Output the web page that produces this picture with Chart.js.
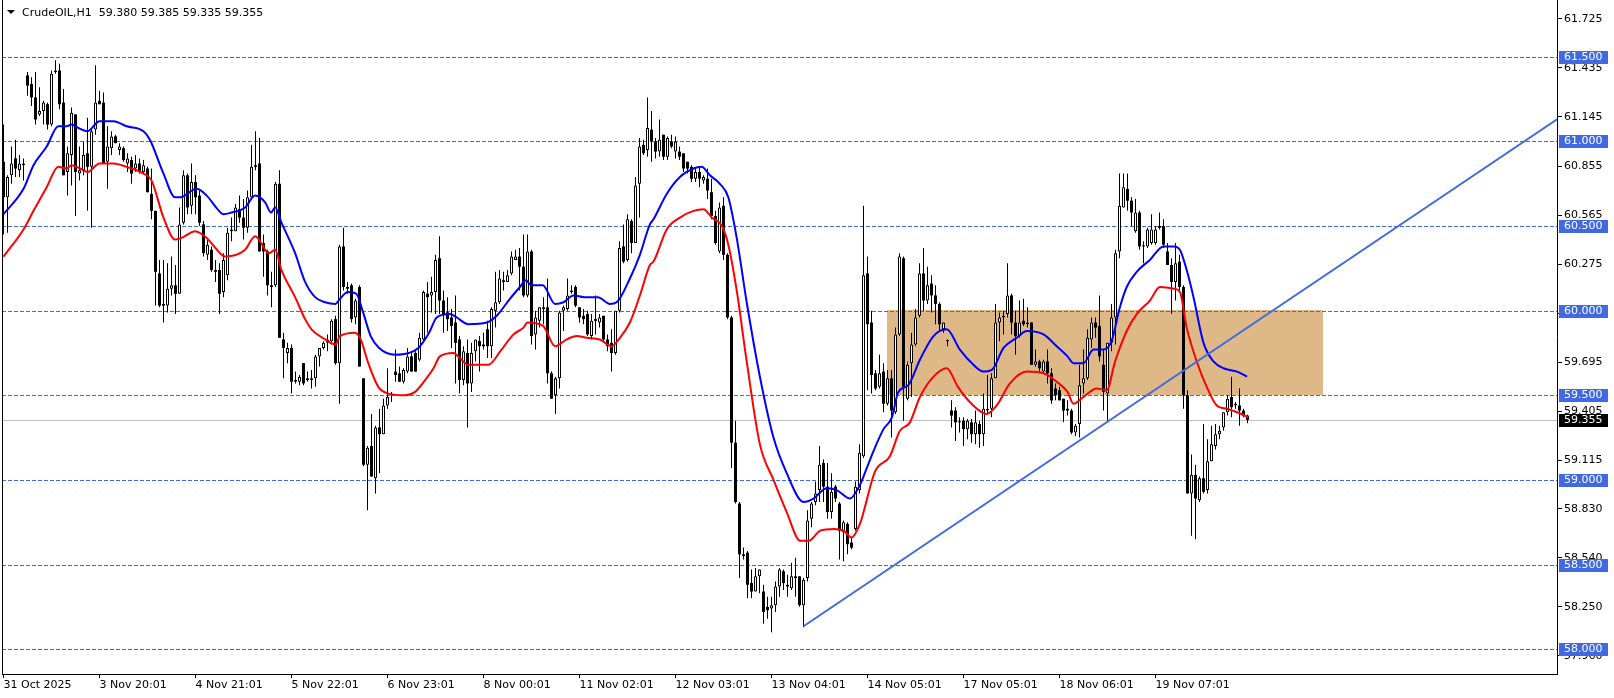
<!DOCTYPE html>
<html>
<head>
<meta charset="utf-8">
<script src="https://cdn.jsdelivr.net/npm/chart.js@4.4.1/dist/chart.umd.min.js"></script>
<style>
  html, body { margin: 0; padding: 0; background: #fff; overflow: hidden; }
  canvas { display: block; }
</style>
</head>
<body>
<canvas id="chart" width="1614" height="698"></canvas>
<script>
// CrudeOIL H1 candles, one entry per bar (bar 0 = 31 Oct 2025)
var opens = [60.88,60.67,60.80,60.90,60.83,60.86,61.39,61.34,61.26,61.16,61.18,61.22,61.10,61.41,61.42,61.23,60.82,60.92,61.16,60.81,
60.83,60.93,60.85,61.07,61.24,61.23,60.88,60.96,61.03,60.95,60.96,60.87,60.89,60.84,60.87,60.82,60.84,60.69,60.59,60.22,
60.04,60.03,60.13,60.15,60.10,60.52,60.80,60.62,60.76,60.68,60.51,60.33,60.36,60.24,60.24,60.11,60.21,60.47,60.47,60.60,
60.55,60.49,60.67,60.86,60.87,60.40,60.35,60.15,60.15,60.75,59.83,59.75,59.78,59.58,59.58,59.69,59.60,59.59,59.60,59.73,
59.78,59.81,59.82,59.95,59.69,60.38,60.14,60.15,59.96,60.14,59.60,59.09,59.20,59.01,59.31,59.27,59.44,59.50,59.64,59.63,
59.58,59.64,59.73,59.75,59.71,59.83,60.10,60.09,60.11,60.31,60.06,59.99,59.96,59.93,59.83,59.59,59.75,59.57,59.76,59.82,
59.80,59.89,59.79,60.00,60.05,60.18,60.17,60.22,60.30,60.32,60.26,60.09,60.35,59.86,59.94,60.02,60.02,59.63,59.50,59.60,
60.00,60.01,60.11,60.14,60.02,59.97,59.98,59.85,59.95,59.93,59.97,59.83,59.81,59.75,60.00,60.38,60.30,60.53,60.40,60.75,
60.98,60.95,61.07,61.00,60.94,61.04,60.91,61.00,60.94,60.94,60.93,60.88,60.85,60.78,60.82,60.77,60.78,60.70,60.56,60.35,
60.62,60.33,59.96,59.22,58.86,58.56,58.57,58.39,58.34,58.43,58.34,58.25,58.24,58.26,58.37,58.46,58.38,58.36,58.43,58.43,
58.26,58.42,58.77,58.87,58.94,59.10,58.96,58.81,58.96,58.86,58.69,58.74,58.63,58.71,58.94,59.14,60.22,59.93,59.63,59.55,
59.64,59.45,59.60,59.40,59.86,60.31,59.48,59.69,59.80,59.97,60.22,60.06,60.16,60.09,60.04,59.89,59.82,59.41,59.41,59.34,
59.35,59.30,59.34,59.27,59.33,59.27,59.41,59.42,59.60,59.93,59.96,59.98,60.09,59.93,59.85,59.94,59.92,59.93,59.68,59.70,
59.64,59.70,59.63,59.54,59.53,59.48,59.42,59.41,59.28,59.33,59.57,59.60,59.83,59.93,59.91,59.68,59.51,59.81,59.96,60.35,
60.61,60.72,60.65,60.47,60.58,60.38,60.38,60.40,60.40,60.50,60.50,60.35,60.27,60.17,60.29,60.14,59.50,58.92,59.03,58.88,
59.01,58.94,59.11,59.20,59.27,59.31,59.40,59.49,59.44,59.44,59.41,59.38];
var highs = [61.10,60.80,60.97,61.01,60.92,60.90,61.41,61.38,61.41,61.32,61.24,61.23,61.42,61.48,61.46,61.31,60.97,61.20,61.16,60.97,
61.00,61.14,61.08,61.45,61.30,61.29,61.09,61.06,61.04,60.99,60.97,60.93,60.91,60.92,60.90,60.89,60.85,60.84,60.59,60.30,
60.30,60.28,60.32,60.27,60.61,60.83,60.81,60.87,60.80,60.72,60.53,60.42,60.38,60.30,60.28,60.34,60.49,60.55,60.63,60.68,
60.66,60.71,60.98,61.06,61.02,60.45,60.36,60.23,60.76,60.83,59.87,59.81,59.80,59.64,59.62,59.69,59.64,59.65,59.74,59.78,
59.82,59.86,59.95,59.97,60.39,60.49,60.17,60.16,60.07,60.15,59.60,59.20,59.39,59.32,59.42,59.48,59.66,59.52,59.77,59.67,
59.66,59.78,59.76,59.76,59.87,60.12,60.17,60.20,60.33,60.44,60.12,60.08,60.01,60.09,59.85,59.79,59.83,59.81,59.83,59.85,
59.87,59.94,60.02,60.23,60.24,60.23,60.24,60.35,60.36,60.37,60.45,60.45,60.36,60.00,60.02,60.08,60.19,59.64,59.61,60.00,
60.03,60.19,60.15,60.15,60.02,60.01,60.00,59.98,60.09,59.98,59.97,59.86,59.89,60.00,60.41,60.51,60.57,60.54,60.79,61.02,
61.01,61.26,61.18,61.02,61.13,61.04,61.03,61.04,61.03,60.97,60.93,60.88,60.86,60.84,60.85,60.80,60.84,60.78,60.59,60.64,
60.67,60.34,59.97,59.35,58.87,58.60,58.58,58.47,58.48,58.47,58.38,58.31,58.31,58.40,58.48,58.47,58.44,58.51,58.54,58.43,
58.42,58.82,58.87,58.99,59.20,59.12,59.10,59.04,58.97,58.87,58.76,58.75,58.66,58.99,59.21,60.62,60.32,60.00,59.65,59.74,
59.69,59.65,59.65,59.90,60.34,60.32,59.70,59.87,60.01,60.28,60.37,60.26,60.21,60.15,60.05,59.93,59.83,59.47,59.43,59.37,
59.37,59.36,59.36,59.41,59.35,59.51,59.62,59.63,60.04,59.99,60.00,60.28,60.10,60.00,60.06,60.07,60.02,59.93,59.77,59.71,
59.71,59.77,59.66,59.57,59.55,59.48,59.47,59.42,59.33,59.68,59.77,59.89,59.96,59.96,60.09,59.77,59.81,60.04,60.36,60.81,
60.81,60.81,60.67,60.66,60.59,60.41,60.49,60.57,60.50,60.58,60.54,60.40,60.31,60.40,60.33,60.15,59.53,59.15,59.09,59.02,
59.33,59.24,59.32,59.33,59.32,59.40,59.50,59.61,59.46,59.54,59.42,59.385];
var lows = [60.45,60.46,60.75,60.79,60.79,60.77,61.27,61.21,61.10,61.15,61.10,61.07,61.09,61.40,61.19,60.80,60.68,60.74,60.56,60.77,
60.80,60.59,60.49,61.04,61.22,60.87,60.72,60.92,60.99,60.92,60.88,60.82,60.75,60.82,60.81,60.81,60.70,60.54,60.03,60.02,
59.93,59.99,60.09,59.98,60.10,60.51,60.57,60.57,60.57,60.50,60.32,60.30,60.23,60.17,59.98,60.08,60.18,60.41,60.47,60.52,
60.42,60.46,60.66,60.83,60.35,60.20,60.09,60.02,60.14,59.84,59.60,59.69,59.51,59.57,59.56,59.56,59.58,59.54,59.55,59.67,
59.77,59.76,59.80,59.68,59.45,60.12,60.10,59.93,59.92,59.67,59.08,58.82,59.02,58.92,59.04,59.27,59.42,59.46,59.58,59.58,
59.57,59.63,59.64,59.64,59.70,59.82,59.87,59.99,59.98,59.98,59.87,59.88,59.78,59.57,59.51,59.56,59.31,59.52,59.70,59.64,
59.77,59.72,59.72,59.90,60.04,60.12,60.17,60.21,60.30,60.12,60.08,60.08,59.80,59.77,59.90,59.92,59.57,59.48,59.39,59.54,
59.88,60.00,60.10,60.02,59.93,59.92,59.85,59.83,59.86,59.90,59.82,59.76,59.64,59.74,59.99,60.28,60.29,60.34,60.40,60.55,
60.92,60.91,60.88,60.90,60.91,60.89,60.89,60.96,60.90,60.89,60.82,60.81,60.76,60.76,60.73,60.75,60.66,60.54,60.39,60.34,
60.30,59.95,59.07,58.86,58.42,58.53,58.30,58.30,58.34,58.33,58.15,58.18,58.10,58.22,58.31,58.35,58.31,58.35,58.31,58.25,
58.13,58.40,58.72,58.85,58.87,58.87,58.77,58.77,58.87,58.53,58.52,58.56,58.59,58.70,58.92,59.13,59.53,59.51,59.53,59.54,
59.40,59.44,59.25,59.39,59.85,59.35,59.47,59.49,59.79,59.96,60.00,60.04,59.99,59.92,59.88,59.87,59.79,59.31,59.23,59.28,
59.20,59.24,59.22,59.21,59.19,59.20,59.39,59.37,59.60,59.82,59.86,59.96,59.86,59.74,59.84,59.91,59.90,59.68,59.67,59.64,
59.63,59.57,59.45,59.47,59.47,59.34,59.38,59.27,59.26,59.25,59.51,59.59,59.78,59.84,59.70,59.41,59.35,59.76,59.80,60.31,
60.61,60.59,60.50,60.46,60.36,60.28,60.37,60.39,60.39,60.48,60.37,60.27,59.98,60.06,60.12,59.42,58.92,58.67,58.65,58.87,
58.92,58.92,59.11,59.18,59.24,59.29,59.38,59.37,59.42,59.32,59.37,59.335];
var closes = [60.67,60.79,60.87,60.84,60.87,60.87,61.33,61.26,61.13,61.18,61.23,61.10,61.40,61.42,61.22,60.80,60.93,61.17,60.82,60.83,
60.92,60.85,61.06,61.23,61.22,60.87,60.97,61.03,60.99,60.97,60.89,60.90,60.81,60.87,60.82,60.86,60.70,60.59,60.23,60.03,
60.03,60.13,60.15,60.10,60.51,60.80,60.61,60.76,60.67,60.52,60.34,60.39,60.24,60.23,60.10,60.30,60.46,60.48,60.61,60.55,
60.49,60.67,60.85,60.85,60.35,60.35,60.15,60.14,60.75,59.84,59.78,59.78,59.58,59.59,59.61,59.57,59.59,59.60,59.73,59.78,
59.81,59.83,59.94,59.69,60.38,60.14,60.13,59.95,60.06,59.67,59.09,59.19,59.02,59.31,59.27,59.44,59.49,59.51,59.62,59.58,
59.65,59.73,59.64,59.64,59.84,60.11,60.08,60.11,60.30,60.06,59.98,59.95,59.91,59.81,59.59,59.76,59.57,59.75,59.83,59.79,
59.79,59.79,60.01,60.05,60.19,60.17,60.21,60.32,60.32,60.26,60.09,60.35,59.85,59.96,60.02,60.01,59.63,59.48,59.60,59.99,
60.02,60.09,60.12,60.03,59.96,59.95,59.86,59.94,59.94,59.96,59.83,59.79,59.75,60.00,60.37,60.29,60.54,60.40,60.74,60.97,
60.93,61.08,61.00,60.94,61.01,60.91,61.02,60.97,61.00,60.91,60.84,60.84,60.78,60.82,60.78,60.79,60.71,60.56,60.40,60.61,
60.33,59.96,59.22,58.87,58.56,58.55,58.38,58.34,58.43,58.47,58.22,58.23,58.26,58.37,58.47,58.39,58.37,58.43,58.42,58.26,
58.41,58.76,58.86,58.92,59.09,58.96,58.81,58.93,58.89,58.70,58.75,58.62,58.60,58.96,59.16,60.21,59.92,59.62,59.54,59.63,
59.45,59.60,59.41,59.86,60.32,59.55,59.68,59.80,59.96,60.22,60.06,60.15,60.09,60.04,59.92,59.93,59.82,59.38,59.34,59.34,
59.30,59.35,59.27,59.34,59.27,59.42,59.42,59.60,59.93,59.96,59.97,60.09,59.93,59.85,59.93,59.92,59.93,59.68,59.70,59.66,
59.70,59.63,59.47,59.50,59.47,59.41,59.41,59.28,59.32,59.56,59.60,59.84,59.93,59.90,59.73,59.52,59.81,59.96,60.34,60.62,
60.73,60.65,60.58,60.58,60.38,60.38,60.48,60.48,60.48,60.49,60.39,60.27,60.17,60.28,60.14,59.50,58.92,59.03,58.89,59.01,
58.93,59.11,59.21,59.27,59.29,59.40,59.48,59.43,59.45,59.41,59.38,59.355];

// moving averages (bar position, price)
var blueBars = [0,5,7.5,10.8,13.7,15.8,17,18.7,21,24,27.5,30.8,35,36.6,40,42.9,44.1,48.3,50.8,53.5,55,57,60.4,62.9,65.4,66.9,67.9,69.5,72.9,75.4,
77.9,80.4,83,84.1,86.1,88.2,89.9,91.8,93.9,97.9,101.3,103.7,106.4,108.3,111.6,113.3,116.2,120.8,123.3,126.6,129.1,130.6,131.9,134.8,137.9,140,142.5,145.2,148.6,151.6,
153.3,156.6,159.1,161.6,162.5,165.8,169.1,172.5,174.5,176.6,179.1,181.2,183.3,185.8,189.1,192.5,195.8,200,202.5,205.8,208.3,211.6,214.1,215,217.5,220,222.1,223.7,226.2,229.1,
232.5,235.8,239.1,242.5,245,247.1,250,253.3,255.8,260,263.3,266,267.5,270,272.5,275,277,279.1,280.8,283.3,286.6,290,292.6,294.1,295.8,297.5,300,302.5,305,308.4,310.9];
var blueVals = [60.57,60.72,60.86,60.97,61.09,61.09,61.10,61.08,61.06,61.12,61.12,61.09,61.06,61.01,60.81,60.67,60.67,60.72,60.68,60.60,60.57,60.58,60.61,60.68,60.64,60.58,60.61,60.52,60.34,60.17,
60.08,60.05,60.04,60.07,60.11,60.10,59.99,59.85,59.78,59.74,59.75,59.78,59.87,59.96,59.98,59.96,59.92,59.93,59.97,60.07,60.14,60.18,60.15,60.15,60.04,60.05,60.09,60.08,60.08,60.04,
60.05,60.19,60.33,60.51,60.54,60.69,60.79,60.84,60.85,60.80,60.75,60.67,60.43,60.05,59.61,59.25,59.04,58.87,58.89,58.95,58.94,58.89,58.97,59.02,59.17,59.30,59.37,59.52,59.56,59.71,
59.85,59.89,59.77,59.68,59.64,59.65,59.78,59.84,59.88,59.86,59.79,59.73,59.69,59.69,59.77,59.77,59.82,60.02,60.14,60.23,60.30,60.38,60.38,60.36,60.24,60.08,59.81,59.70,59.66,59.64,59.61];
var redBars = [0,5,7.5,10.8,13.7,15.8,17,19.1,21,24,27.5,30.8,35,37,40,42.9,44.5,47.9,50.8,53,55.4,60.4,62.9,66.4,67.9,69.5,72.9,75.4,77,80.4,
83,84.1,87.9,89.3,91.2,93.7,96.2,100.4,102.9,105.4,107.5,109.1,112.5,114.1,116.2,121.2,124.5,127.5,130,131,134.9,137.9,140.8,143.3,145.8,149.1,152,154.1,156.6,159.1,
161.6,162.5,165.8,169.1,172.5,175,177.1,179.6,181.2,183.3,185.8,189.1,192.5,195.8,199.2,201.3,204.2,207.6,210,212,214.1,217.9,221.6,224.1,226.6,229.1,232.5,235.8,238.6,242,
245.8,248.3,251.6,255.8,260,263.3,266,267.5,270,273.3,275.8,277.9,280.8,283.3,286.6,289.1,292.6,294.1,295.8,298.3,300.8,303.3,305.8,308.4,311.2];
var redVals = [60.32,60.48,60.59,60.73,60.85,60.84,60.86,60.84,60.82,60.87,60.87,60.85,60.81,60.77,60.55,60.42,60.43,60.47,60.43,60.37,60.32,60.36,60.44,60.34,60.36,60.24,60.08,59.95,59.89,59.83,
59.80,59.85,59.87,59.83,59.69,59.55,59.51,59.50,59.52,59.59,59.66,59.73,59.75,59.72,59.68,59.68,59.77,59.86,59.90,59.93,59.91,59.79,59.83,59.85,59.84,59.83,59.79,59.84,59.93,60.09,
60.27,60.29,60.48,60.55,60.59,60.60,60.55,60.50,60.39,60.12,59.70,59.21,59.00,58.81,58.64,58.64,58.70,58.71,58.70,58.66,58.74,59.05,59.14,59.29,59.34,59.49,59.61,59.66,59.55,59.45,
59.39,59.44,59.57,59.64,59.63,59.58,59.52,59.45,59.49,59.54,59.53,59.70,59.88,59.98,60.06,60.14,60.13,60.11,59.90,59.70,59.55,59.44,59.42,59.40,59.37];

// time axis
var tickBars = [0,24,48,72,96,120,144,168,192,216,240,264,288];
var timeLabels = ['31 Oct 2025','3 Nov 20:01','4 Nov 21:01','5 Nov 22:01','6 Nov 23:01','8 Nov 00:01','11 Nov 02:01',
  '12 Nov 03:01','13 Nov 04:01','14 Nov 05:01','17 Nov 05:01','18 Nov 06:01','19 Nov 07:01'];
// price axis
var priceTicks = ['61.725','61.435','61.145','60.855','60.565','60.275','59.985','59.695','59.405','59.115','58.830','58.540','58.250','57.960'];
var levels = [61.5, 61.0, 60.5, 60.0, 59.5, 59.0, 58.5, 58.0];
var lastPrice = 59.355;
var titleText = 'CrudeOIL,H1  59.380 59.385 59.335 59.355';
// drawn objects
var zoneBars = [220.9, 329.8];
var zonePrices = [59.5, 60.005];
var trendBars = [200, 388.4];
var trendPrices = [58.135, 61.131];

var viewBars = [-0.375, 388.375];
var viewPrices = [57.853, 61.836];

var FONT = 'DejaVu Sans';
Chart.defaults.font.family = FONT;
Chart.defaults.font.size = 11;
Chart.defaults.color = '#000';

var idx = closes.map(function (c, i) { return i; });

var overlay = {
    id: 'overlay',
    beforeDatasetsDraw: function (chart) {
        var ctx = chart.ctx, a = chart.chartArea, x = chart.scales.x, y = chart.scales.y;
        ctx.save();
        ctx.beginPath();
        ctx.rect(a.left, a.top, a.right - a.left, a.bottom - a.top);
        ctx.clip();
        // support/resistance box
        var x0 = Math.round(x.getPixelForValue(zoneBars[0]));
        var x1 = Math.round(x.getPixelForValue(zoneBars[1]));
        var y0 = Math.round(y.getPixelForValue(zonePrices[1]));
        var y1 = Math.round(y.getPixelForValue(zonePrices[0]));
        ctx.fillStyle = '#DEB887';
        ctx.fillRect(x0, y0, x1 - x0, y1 - y0);
        // bid line
        var py = Math.round(y.getPixelForValue(lastPrice)) + 0.5;
        ctx.strokeStyle = '#C0C0C0';
        ctx.lineWidth = 1;
        ctx.beginPath();
        ctx.moveTo(a.left, py);
        ctx.lineTo(a.right, py);
        ctx.stroke();
        // dashed levels
        ctx.strokeStyle = '#4169E1';
        ctx.setLineDash([4, 2]);
        levels.forEach(function (v) {
            var ly = Math.round(y.getPixelForValue(v)) + 0.5;
            ctx.beginPath();
            ctx.moveTo(a.left, ly);
            ctx.lineTo(a.right, ly);
            ctx.stroke();
        });
        ctx.restore();
    },
    afterDatasetsDraw: function (chart) {
        var ctx = chart.ctx, a = chart.chartArea, x = chart.scales.x, y = chart.scales.y;
        ctx.save();
        ctx.beginPath();
        ctx.rect(a.left, a.top, a.right - a.left, a.bottom - a.top);
        ctx.clip();
        ctx.strokeStyle = '#4169E1';
        ctx.lineWidth = 2;
        ctx.beginPath();
        ctx.moveTo(x.getPixelForValue(trendBars[0]), y.getPixelForValue(trendPrices[0]));
        ctx.lineTo(x.getPixelForValue(trendBars[1]), y.getPixelForValue(trendPrices[1]));
        ctx.stroke();
        ctx.restore();
    },
    afterDraw: function (chart) {
        var ctx = chart.ctx, a = chart.chartArea, y = chart.scales.y;
        ctx.save();
        // left border
        ctx.strokeStyle = '#000';
        ctx.lineWidth = 1;
        ctx.beginPath();
        ctx.moveTo(a.left + 0.5, a.top);
        ctx.lineTo(a.left + 0.5, a.bottom);
        ctx.stroke();
        // price tags on the axis
        ctx.font = '11px "' + FONT + '"';
        ctx.textBaseline = 'middle';
        ctx.textAlign = 'left';
        function tag(v, bg) {
            var ty = Math.round(y.getPixelForValue(v));
            ctx.fillStyle = bg;
            ctx.fillRect(a.right + 2, ty - 6, 49, 13);
            ctx.fillStyle = '#fff';
            ctx.fillText(v.toFixed(3), a.right + 7, ty + 0.5);
        }
        levels.forEach(function (v) { tag(v, '#4169E1'); });
        tag(lastPrice, '#000');
        // title
        ctx.fillStyle = '#000';
        ctx.beginPath();
        ctx.moveTo(7, 10);
        ctx.lineTo(15, 10);
        ctx.lineTo(11, 14);
        ctx.closePath();
        ctx.fill();
        ctx.fillText(titleText, 22, 13);
        ctx.restore();
    }
};

new Chart(document.getElementById('chart'), {
    type: 'bar',
    data: {
        datasets: [
            {
                type: 'line',
                label: 'MA blue',
                data: blueBars.map(function (b, k) { return { x: b, y: blueVals[k] }; }),
                borderColor: '#0000FF',
                borderWidth: 2,
                pointRadius: 0,
                cubicInterpolationMode: 'monotone',
                order: 0
            },
            {
                type: 'line',
                label: 'MA red',
                data: redBars.map(function (b, k) { return { x: b, y: redVals[k] }; }),
                borderColor: '#FF0000',
                borderWidth: 2,
                pointRadius: 0,
                cubicInterpolationMode: 'monotone',
                order: 0
            },
            {
                label: 'body',
                data: idx.map(function (i) {
                    return { x: i, y: [Math.min(opens[i], closes[i]), Math.max(opens[i], closes[i])] };
                }),
                backgroundColor: function (c) {
                    var i = c.dataIndex;
                    return closes[i] > opens[i] ? '#FFFFFF' : '#000000';
                },
                borderColor: '#000000',
                borderWidth: function (c) {
                    var i = c.dataIndex;
                    return closes[i] > opens[i] ? 1 : 0;
                },
                borderSkipped: false,
                inflateAmount: 0,
                barThickness: 3,
                minBarLength: 1,
                grouped: false,
                order: 1
            },
            {
                label: 'wick',
                data: idx.map(function (i) { return { x: i, y: [lows[i], highs[i]] }; }),
                backgroundColor: '#000000',
                borderWidth: 0,
                inflateAmount: 0,
                barThickness: 1,
                minBarLength: 1,
                grouped: false,
                order: 2
            }
        ]
    },
    options: {
        responsive: false,
        animation: false,
        devicePixelRatio: 1,
        layout: { padding: { left: 2, top: 0, right: 0, bottom: 0 } },
        plugins: { legend: { display: false }, tooltip: { enabled: false } },
        scales: {
            x: {
                type: 'linear',
                min: viewBars[0],
                max: viewBars[1],
                offset: false,
                afterFit: function (s) {
                    s.height = 24;
                    s.paddingLeft = 0;
                    s.paddingRight = 0;
                },
                afterBuildTicks: function (s) {
                    s.ticks = tickBars.map(function (v) { return { value: v }; });
                },
                grid: { offset: false, drawOnChartArea: false, drawTicks: true, tickLength: 4, color: '#000' },
                border: { display: true, color: '#000' },
                ticks: {
                    autoSkip: false,
                    maxRotation: 0,
                    align: 'start',
                    padding: 1,
                    callback: function (v, i) { return timeLabels[i]; }
                }
            },
            y: {
                type: 'linear',
                position: 'right',
                min: viewPrices[0],
                max: viewPrices[1],
                afterFit: function (s) {
                    s.width = 57;
                    s.paddingTop = 0;
                    s.paddingBottom = 0;
                },
                afterBuildTicks: function (s) {
                    s.ticks = priceTicks.map(function (t) { return { value: parseFloat(t) }; });
                },
                grid: { drawOnChartArea: false, drawTicks: true, tickLength: 5, color: '#000' },
                border: { display: true, color: '#000' },
                ticks: {
                    autoSkip: false,
                    padding: 2,
                    callback: function (v, i) { return priceTicks[i]; }
                }
            }
        }
    },
    plugins: [overlay]
});
</script>
</body>
</html>
